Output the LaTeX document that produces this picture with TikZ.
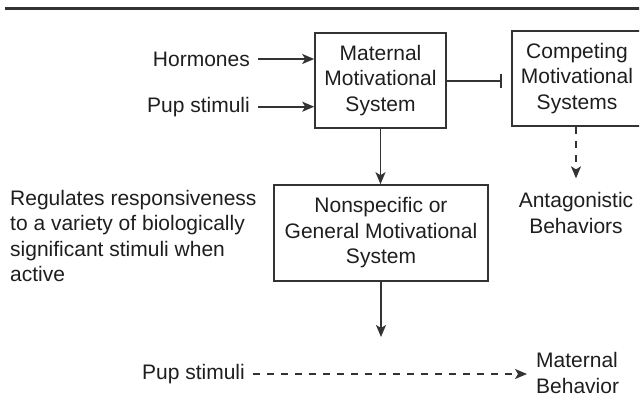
\documentclass[tikz,border=0pt]{standalone}
\usepackage{fontspec}
\setmainfont{Liberation Sans}
\usetikzlibrary{arrows.meta}
\definecolor{ink}{HTML}{1E1E1E}
\definecolor{rule}{HTML}{333333}
\begin{document}
\begin{tikzpicture}[x=1pt,y=-1pt,
  every node/.style={text=ink,font=\fontsize{21}{25.5}\selectfont,inner sep=0pt},
  sysbox/.style={draw=rule,line width=1.6pt,align=center},
  label/.style={align=center},
  link/.style={draw=rule,line width=1.6pt,-{Stealth[length=12pt,width=10pt,inset=3pt]}},
  dashlink/.style={link,dash pattern=on 7pt off 7pt},
  block/.style={draw=rule,line width=1.6pt,-{Bar[width=14pt,line width=1.8pt]}}]
  \useasboundingbox (0,0) rectangle (640,400);
  \clip (0,0) rectangle (639.2,400);

  % heading rule
  \draw[rule,line width=3pt] (5,8.8) -- (645,8.8);

  % boxes
  \node[sysbox,minimum width=131pt,minimum height=95pt] (mat) at (380.5,80.5)
    {Maternal\\Motivational\\System};
  \node[sysbox,minimum width=130pt,minimum height=95pt] (comp) at (577,78.5)
    {Competing\\Motivational\\Systems};
  \node[sysbox,minimum width=214pt,minimum height=96pt] (gen) at (381,233)
    {Nonspecific or\\General Motivational\\System};

  % inputs
  \node[anchor=east] (horm) at (250,59) {Hormones};
  \node[anchor=east] (pup1) at (250,106.7) {Pup stimuli};
  \draw[link,shorten <=8pt] (horm.east) -- (mat.west |- horm.east);
  \draw[link,shorten <=8pt] (pup1.east) -- (mat.west |- pup1.east);

  % inhibition of competing systems
  \coordinate (stop) at (502,80.7);
  \draw[block] (mat.east |- stop) -- (stop);

  \node[label] (antag) at (576,213) {Antagonistic\\Behaviors};
  \draw[dashlink] (comp.south -| antag.north) -- ([yshift=14pt]antag.north);

  % general system
  \draw[link] (mat.south) -- (mat.south |- gen.north);
  \node[anchor=west,align=left] (note) at (10,236)
    {Regulates responsiveness\\to a variety of biologically\\significant stimuli when\\active};

  \coordinate (gout) at (381,337);
  \draw[link] (gen.south) -- (gout);

  % output
  \node[anchor=east] (pup2) at (245,374) {Pup stimuli};
  \node[anchor=west,align=left] (matb) at (536,373) {Maternal\\Behavior};
  \draw[dashlink,shorten <=8pt,shorten >=9pt] (pup2.east) -- (matb.west |- pup2.east);
\end{tikzpicture}
\end{document}
